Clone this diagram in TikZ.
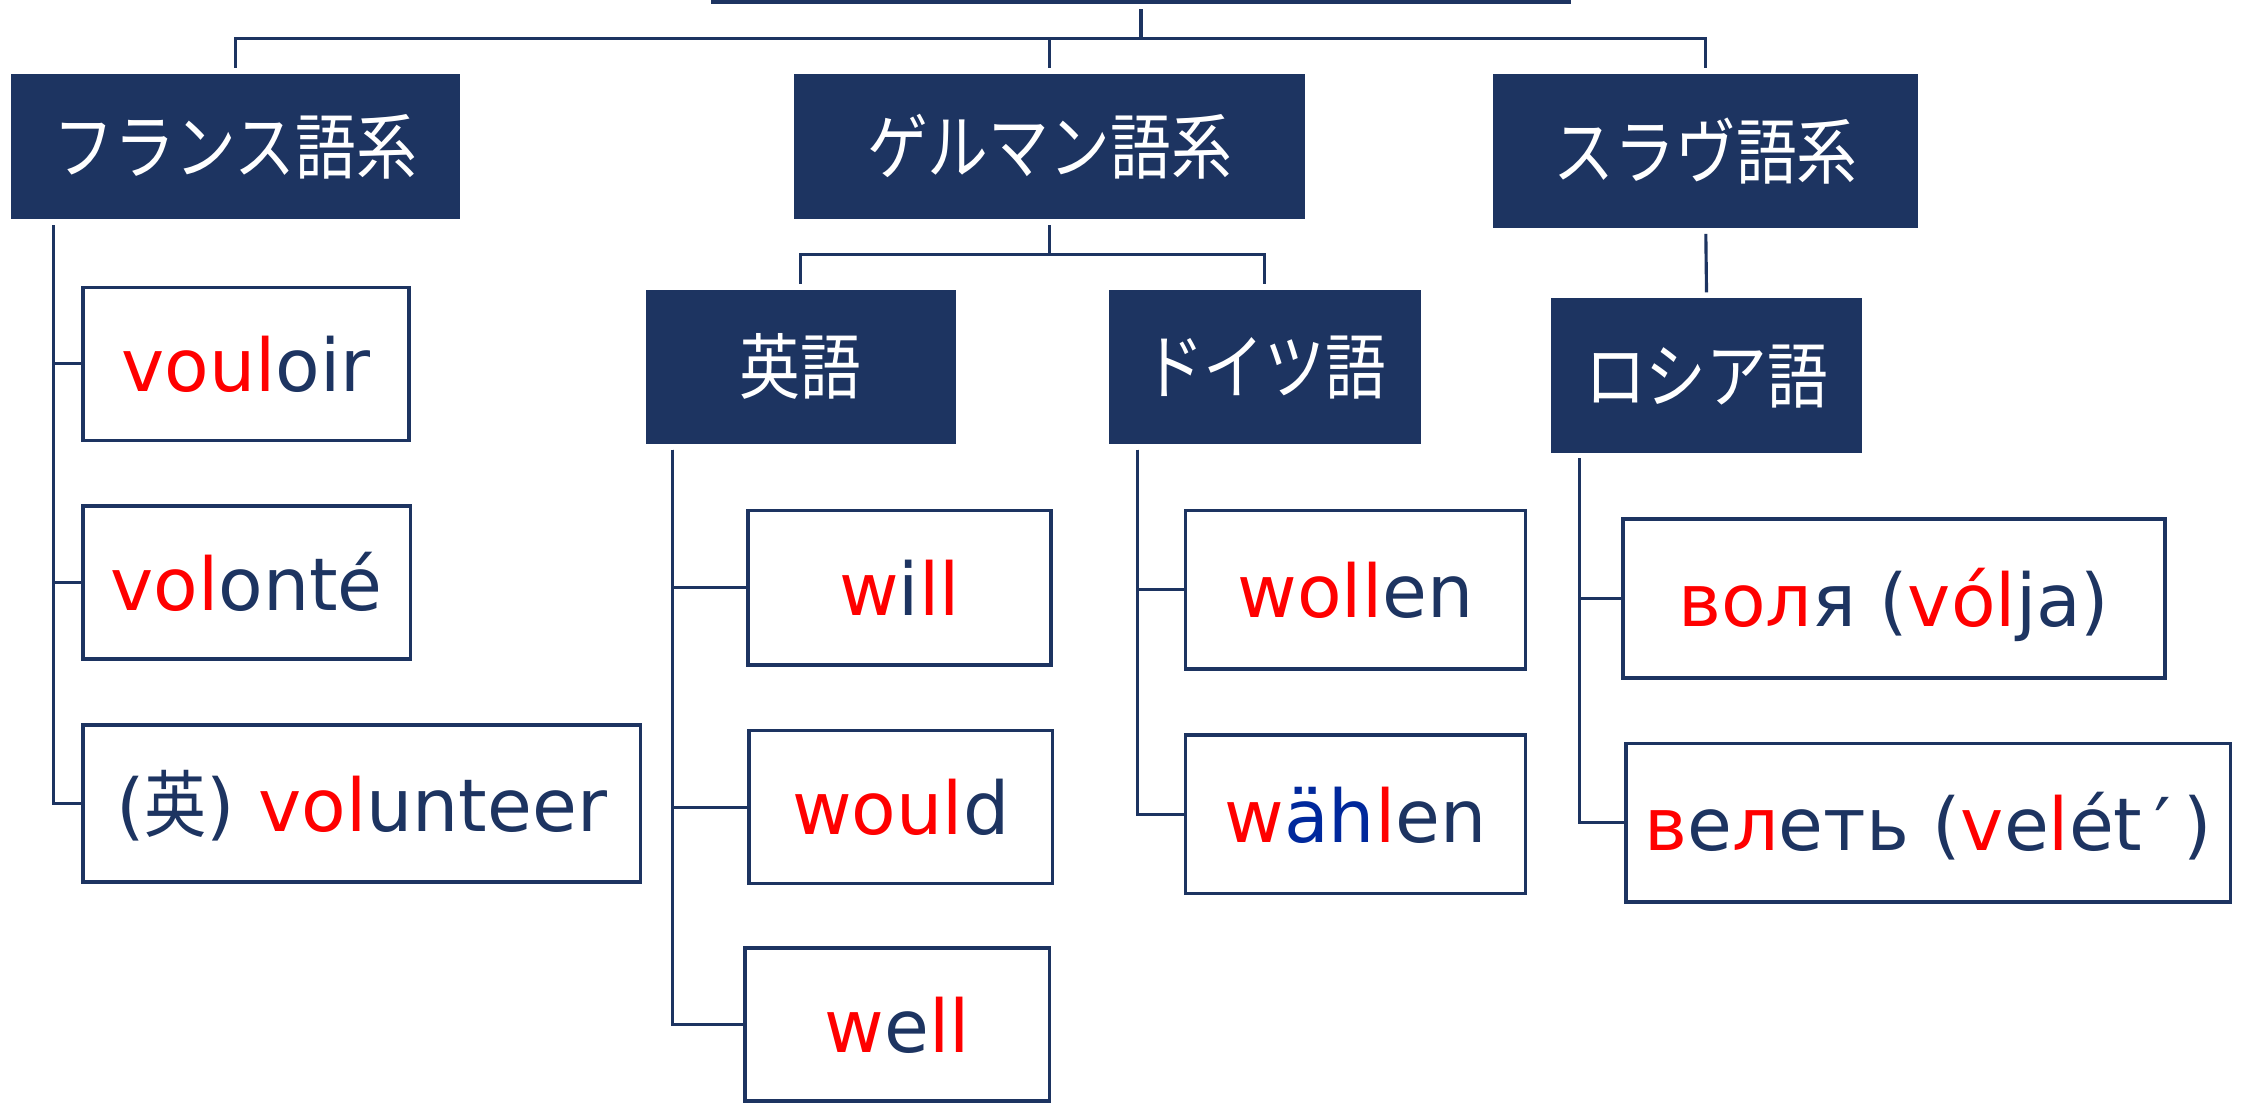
\documentclass[tikz,border=0pt]{standalone}
\usepackage{fontspec}
\setmainfont{DejaVu Sans}
\newfontfamily\jp[FakeStretch=0.85]{Noto Sans CJK JP}
\definecolor{navy}{HTML}{1D3461}
\definecolor{hred}{HTML}{FF0000}
\definecolor{hblue}{HTML}{00289C}
\newcommand{\R}[1]{\textcolor{hred}{#1}}
\newcommand{\B}[1]{\textcolor{hblue}{#1}}
\tikzset{
  hdr/.style={fill=navy, draw=navy, line width=1pt, inner sep=0pt, text=white,
    font=\jp\fontsize{50}{60}\selectfont, text height=41.5pt, text depth=3.5pt},
  word/.style={draw=navy, line width=2.5pt, fill=white, inner sep=0pt, text=navy,
    font=\fontsize{51}{60}\selectfont, text height=38.8pt, text depth=0pt},
  conn/.style={draw=navy, line width=2.2pt},
}
\begin{document}
\begin{tikzpicture}[x=1pt,y=-1pt]
\useasboundingbox (0,0) rectangle (1568,772);
% root (mostly outside the picture)
\node[hdr, minimum width=600, minimum height=62] (root) at (798,-29) {};
% families
\node[hdr, minimum width=313, minimum height=101] (fr) at (164.5,102.5) {フランス語系};
\node[hdr, minimum width=356, minimum height=101] (ge) at (734,102.5) {ゲルマン語系};
\node[hdr, minimum width=296, minimum height=107] (sl) at (1193,105.5) {スラヴ語系};
% languages
\node[hdr, minimum width=216, minimum height=107] (en) at (560,256.5) {英語};
\node[hdr, minimum width=217, minimum height=107] (de) at (884.5,256.5) {ドイツ語};
\node[hdr, minimum width=217, minimum height=107] (ru) at (1193.5,262.5) {ロシア語};
% words
\node[word, minimum width=228, minimum height=107] (vouloir) at (172,254.5) {\R{voul}oir};
\node[word, minimum width=229, minimum height=107] (volonte) at (172.5,407.5) {\R{vol}onté};
\node[word, minimum width=390, minimum height=110] (volunteer) at (253,562) {({\jp 英}) \R{vol}unteer};
\node[word, minimum width=212, minimum height=108] (will) at (629,411) {\R{w}i\R{ll}};
\node[word, minimum width=212, minimum height=107] (would) at (630,564.5) {\R{woul}d};
\node[word, minimum width=213, minimum height=107] (well) at (627.5,716.5) {\R{w}e\R{ll}};
\node[word, minimum width=238, minimum height=111] (wollen) at (948,412.5) {\R{woll}en};
\node[word, minimum width=238, minimum height=111] (wahlen) at (948,569.5) {\R{w}\B{äh}\R{l}en};
\node[word, minimum width=379, minimum height=111] (volya) at (1324.5,418.5) {\R{вол}я (\R{vól}ja)};
\node[word, minimum width=423, minimum height=111] (velet) at (1348.5,575.5) {\R{в}е\R{л}еть (\R{v}e\R{l}ét\,′\,)};
% bus coordinates
\coordinate (bus) at (0,27);
\coordinate (gbus) at (0,178);
% top level
\draw[conn] ([yshift=-4pt]root.south) -- (root.south |- bus);
\draw[conn] ([yshift=4pt]fr.north) -- (fr.north |- bus) -- (sl.north |- bus) -- ([yshift=4pt]sl.north);
\draw[conn] ([yshift=4pt]ge.north) -- (ge.north |- bus);
% germanic
\draw[conn] ([yshift=-4pt]ge.south) -- (ge.south |- gbus);
\draw[conn] ([yshift=4pt]en.north) -- (en.north |- gbus) -- (de.north |- gbus) -- ([yshift=4pt]de.north);
% slavic
\draw[conn] ([yshift=-4pt]sl.south) -- ([yshift=4pt]ru.north);
% french words
\coordinate (frt) at ([xshift=30pt,yshift=-4pt]fr.south west);
\draw[conn] (frt) |- (volunteer.west);
\draw[conn] (frt) |- (vouloir.west);
\draw[conn] (frt) |- (volonte.west);
% english words
\coordinate (ent) at ([xshift=19pt,yshift=-4pt]en.south west);
\draw[conn] (ent) |- (well.west);
\draw[conn] (ent) |- (will.west);
\draw[conn] (ent) |- (would.west);
% german words
\coordinate (det) at ([xshift=20pt,yshift=-4pt]de.south west);
\draw[conn] (det) |- (wahlen.west);
\draw[conn] (det) |- (wollen.west);
% russian words
\coordinate (rut) at ([xshift=20pt,yshift=-4pt]ru.south west);
\draw[conn] (rut) |- (velet.west);
\draw[conn] (rut) |- (volya.west);
\end{tikzpicture}
\end{document}
